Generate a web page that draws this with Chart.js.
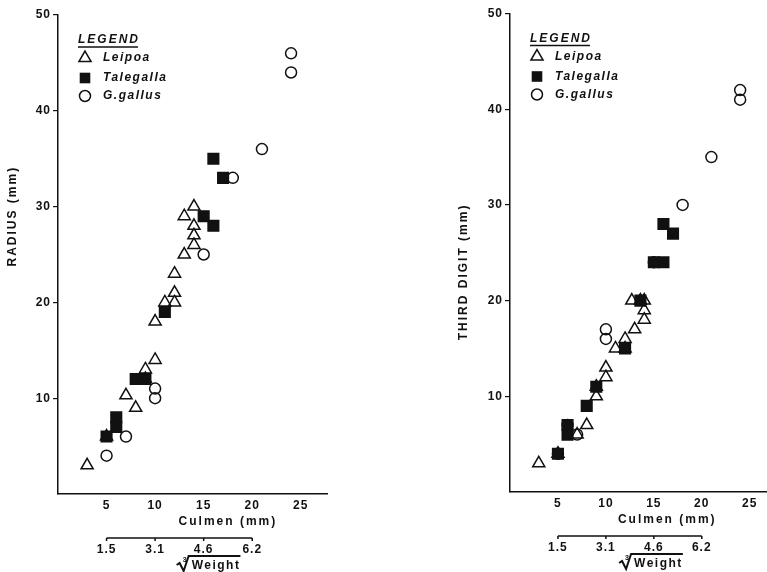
<!DOCTYPE html>
<html>
<head>
<meta charset="utf-8">
<script src="https://cdn.jsdelivr.net/npm/chart.js@4"></script>
<style>
    html, body { margin: 0; background: #fff; overflow: hidden; width: 767px; height: 572px; }
    #painelRaio  { position: absolute; left: 0;     top: 0; width: 345px; height: 572px; }
    #painelDigito { position: absolute; left: 445px; top: 0; width: 331px; height: 572px; }
</style>
</head>
<body>
<div id="painelRaio"><canvas id="canvasRaio"></canvas></div>
<div id="painelDigito"><canvas id="canvasDigito"></canvas></div>
<script>
// ticks e rotulos
var ticksCulmen = [5, 10, 15, 20, 25];
var ticksMedida = [10, 20, 30, 40, 50];
var posicoesPeso = [5, 10, 15, 20];
var rotulosPeso = ["1.5", "3.1", "4.6", "6.2"];
var nomesEspecies = ["Leipoa", "Talegalla", "G.gallus"];

// RADIUS x Culmen
var leipoaRaioX = [3, 5, 7, 8, 9, 9, 10, 10, 11, 12, 12, 12, 13, 14, 14, 14, 13, 14];
var leipoaRaioY = [3, 6, 10.3, 9, 13, 12, 14, 18, 20, 20, 21, 23, 25, 26, 27, 28, 29, 30];
var talegallaRaioX = [5, 6, 6, 8, 9, 11, 15, 16, 16, 17];
var talegallaRaioY = [6, 8, 7, 12, 12, 19, 29, 28, 35, 33];
var gallusRaioX = [5, 7, 10, 10, 15, 18, 21, 24, 24];
var gallusRaioY = [4, 6, 10, 11, 25, 33, 36, 44, 46];

// THIRD DIGIT x Culmen
var leipoaDigitoX = [3, 5, 7, 8, 9, 9, 10, 10, 11, 12, 12, 13, 14, 14, 12.7, 13.6, 14];
var leipoaDigitoY = [3, 4, 6, 7, 10, 11, 12, 13, 15, 15, 16, 17, 18, 19, 20, 20, 20];
var talegallaDigitoX = [5, 6, 6, 8, 9, 12, 13.6, 15, 16, 16, 17];
var talegallaDigitoY = [4, 6, 7, 9, 11, 15, 20, 24, 24, 28, 27];
var gallusDigitoX = [5, 6, 7, 10, 10, 15, 18, 21, 24, 24];
var gallusDigitoY = [4, 7, 6, 16, 17, 24, 30, 35, 41, 42];

var corTinta = "#111";
var fonteBase = '"Liberation Sans", Arial, sans-serif';
var estilosPonto = ["triangle", "rect", "circle"];
var raiosPonto = [7, 7.5, 5.5];

function juntarPontos(xs, ys) {
    var pontos = [];
    for (var i = 0; i < xs.length; i++) {
        pontos.push({ x: xs[i], y: ys[i] });
    }
    return pontos;
}

function desenharMarcador(ctx, estilo, x, y, r) {
    ctx.beginPath();
    if (estilo == "triangle") {
        ctx.moveTo(x, y - r);
        ctx.lineTo(x + r * Math.sin(Math.PI / 3), y + r / 2);
        ctx.lineTo(x - r * Math.sin(Math.PI / 3), y + r / 2);
        ctx.closePath();
        ctx.stroke();
    } else if (estilo == "rect") {
        var s = r * Math.SQRT1_2;
        ctx.rect(x - s, y - s, 2 * s, 2 * s);
        ctx.fill();
    } else {
        ctx.arc(x, y, r, 0, Math.PI * 2);
        ctx.stroke();
    }
}

var pluginTextos = {
    id: "textosFigura",
    beforeDraw: function (chart) {
        chart.ctx.letterSpacing = "1px";
    },
    afterDraw: function (chart, args, opts) {
        var ctx = chart.ctx;
        var area = chart.chartArea;
        var escX = chart.scales.x;
        var escY = chart.scales.y;
        var escPeso = chart.scales.x2;

        ctx.save();
        ctx.fillStyle = corTinta;
        ctx.strokeStyle = corTinta;
        ctx.lineWidth = 1.5;

        // titulo do eixo y
        ctx.save();
        ctx.letterSpacing = "2px";
        ctx.font = "bold 12px " + fonteBase;
        ctx.translate(opts.tituloYX, escY.getPixelForValue(opts.tituloYCentro));
        ctx.rotate(-Math.PI / 2);
        ctx.textAlign = "center";
        ctx.textBaseline = "middle";
        ctx.fillText(opts.tituloY, 0, 0);
        ctx.restore();

        // titulo do eixo x
        ctx.letterSpacing = "2px";
        ctx.font = "bold 12px " + fonteBase;
        ctx.textAlign = "center";
        ctx.textBaseline = "middle";
        ctx.fillText("Culmen (mm)", escX.getPixelForValue(opts.tituloXCentro), escX.top + 28);

        // eixo secundario (raiz cubica do peso)
        var yLinha = escPeso.top + 8;
        var xIni = escX.getPixelForValue(posicoesPeso[0]);
        var xFim = escX.getPixelForValue(posicoesPeso[posicoesPeso.length - 1]);
        ctx.beginPath();
        ctx.moveTo(xIni, yLinha);
        ctx.lineTo(xFim, yLinha);
        for (var i = 0; i < posicoesPeso.length; i++) {
            var px = escX.getPixelForValue(posicoesPeso[i]);
            ctx.moveTo(px, yLinha);
            ctx.lineTo(px, yLinha + 3);
        }
        ctx.stroke();

        ctx.letterSpacing = "1.5px";
        ctx.font = "bold 12px " + fonteBase;
        var textoPeso = "Weight";
        var larguraRaiz = 15;
        var larguraTexto = ctx.measureText(textoPeso).width;
        var xPesoCentro = escX.getPixelForValue(opts.tituloPesoCentro);
        var xRaiz = xPesoCentro - (larguraRaiz + larguraTexto) / 2;
        var yPeso = escPeso.top + 36;
        ctx.textAlign = "left";
        ctx.fillText(textoPeso, xRaiz + larguraRaiz, yPeso);
        // sinal de raiz com indice 3
        ctx.beginPath();
        ctx.moveTo(xRaiz, yPeso - 1);
        ctx.lineTo(xRaiz + 3, yPeso - 3);
        ctx.lineTo(xRaiz + 7, yPeso + 5);
        ctx.lineTo(xRaiz + 12, yPeso - 10);
        ctx.lineTo(xRaiz + larguraRaiz + larguraTexto, yPeso - 10);
        ctx.lineWidth = 2;
        ctx.stroke();
        ctx.font = "bold 7px " + fonteBase;
        ctx.letterSpacing = "0px";
        ctx.fillText("3", xRaiz + 6, yPeso - 6);

        // legenda
        var xLeg = area.left + 20;
        var yLeg = area.top + 25;
        ctx.letterSpacing = "2px";
        ctx.font = "italic bold 12px " + fonteBase;
        ctx.textBaseline = "middle";
        ctx.fillText("LEGEND", xLeg, yLeg);
        var larguraLeg = ctx.measureText("LEGEND").width;
        ctx.beginPath();
        ctx.lineWidth = 1.3;
        ctx.moveTo(xLeg, yLeg + 7);
        ctx.lineTo(xLeg + larguraLeg - 2, yLeg + 7);
        ctx.stroke();

        var passos = [18, 38, 56];
        ctx.letterSpacing = "1.5px";
        for (var j = 0; j < nomesEspecies.length; j++) {
            var yItem = yLeg + passos[j];
            ctx.lineWidth = 1.5;
            desenharMarcador(ctx, estilosPonto[j], xLeg + 7, yItem, raiosPonto[j]);
            ctx.fillText(nomesEspecies[j], xLeg + 25, yItem);
        }
        ctx.restore();
    }
};

function criarPainel(idCanvas, series, cfg) {
    var datasets = [];
    for (var i = 0; i < series.length; i++) {
        datasets.push({
            label: nomesEspecies[i],
            data: series[i],
            pointStyle: estilosPonto[i],
            pointRadius: raiosPonto[i],
            pointHoverRadius: raiosPonto[i],
            borderColor: corTinta,
            borderWidth: 1.5,
            backgroundColor: i == 1 ? corTinta : "rgba(0,0,0,0)"
        });
    }

    var fonteTick = { family: fonteBase, size: 12, weight: "bold" };

    var config = {
        type: "scatter",
        data: { datasets: datasets },
        options: {
            responsive: true,
            maintainAspectRatio: false,
            animation: false,
            layout: { padding: cfg.padding },
            plugins: {
                legend: { display: false },
                tooltip: { enabled: false },
                textosFigura: cfg.textos
            },
            scales: {
                x: {
                    type: "linear",
                    position: "bottom",
                    min: 0,
                    max: cfg.xMax,
                    afterBuildTicks: function (s) {
                        s.ticks = ticksCulmen.map(function (v) { return { value: v }; });
                    },
                    ticks: { color: corTinta, font: fonteTick, padding: 4, maxRotation: 0, autoSkip: false },
                    grid: { display: false, drawTicks: false },
                    border: { display: true, color: corTinta, width: 1.5 },
                    afterFit: function (s) {
                        s.height = 36;
                        s.paddingLeft = 0;
                        s.paddingRight = 0;
                    }
                },
                x2: {
                    type: "linear",
                    position: "bottom",
                    min: 0,
                    max: cfg.xMax,
                    afterBuildTicks: function (s) {
                        s.ticks = posicoesPeso.map(function (v) { return { value: v }; });
                    },
                    ticks: {
                        color: corTinta,
                        font: fonteTick,
                        padding: 12,
                        maxRotation: 0,
                        autoSkip: false,
                        callback: function (v, idx) { return rotulosPeso[idx]; }
                    },
                    grid: { display: false, drawTicks: false },
                    border: { display: false },
                    afterFit: function (s) {
                        s.height = 42;
                        s.paddingLeft = 0;
                        s.paddingRight = 0;
                    }
                },
                y: {
                    type: "linear",
                    min: 0,
                    max: 50,
                    afterBuildTicks: function (s) {
                        s.ticks = ticksMedida.map(function (v) { return { value: v }; });
                    },
                    ticks: { color: corTinta, font: fonteTick, padding: 2 },
                    grid: { display: true, drawOnChartArea: false, drawTicks: true, tickLength: 5, color: corTinta, lineWidth: 1.2 },
                    border: { display: true, color: corTinta, width: 1.5 },
                    afterFit: function (s) { s.width = cfg.larguraY; }
                }
            }
        },
        plugins: [pluginTextos]
    };

    new Chart(document.getElementById(idCanvas), config);
}

criarPainel("canvasRaio", [
    juntarPontos(leipoaRaioX, leipoaRaioY),
    juntarPontos(talegallaRaioX, talegallaRaioY),
    juntarPontos(gallusRaioX, gallusRaioY)
], {
    xMax: 27.7,
    larguraY: 58,
    padding: { top: 15, right: 18, bottom: 0, left: 0 },
    textos: { tituloY: "RADIUS (mm)", tituloYX: 13, tituloYCentro: 29, tituloXCentro: 17.5, tituloPesoCentro: 15.5 }
});

criarPainel("canvasDigito", [
    juntarPontos(leipoaDigitoX, leipoaDigitoY),
    juntarPontos(talegallaDigitoX, talegallaDigitoY),
    juntarPontos(gallusDigitoX, gallusDigitoY)
], {
    xMax: 26.8,
    larguraY: 65,
    padding: { top: 13.5, right: 0, bottom: 2, left: 0 },
    textos: { tituloY: "THIRD DIGIT (mm)", tituloYX: 19, tituloYCentro: 23, tituloXCentro: 16.4, tituloPesoCentro: 14.7 }
});
</script>
</body>
</html>
